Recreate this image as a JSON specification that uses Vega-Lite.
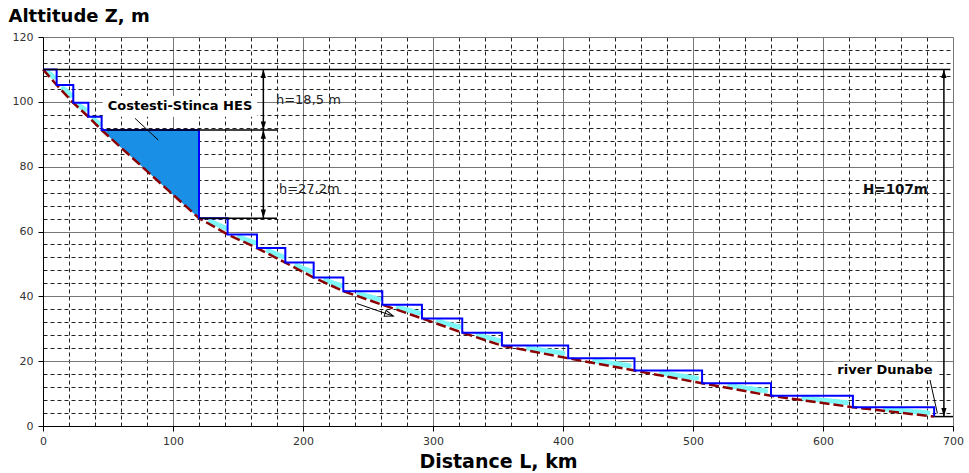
{
  "$schema": "https://vega.github.io/schema/vega-lite/v6.json",
  "width": 910,
  "height": 389,
  "autosize": {"type": "none"},
  "padding": {"left": 43, "top": 37, "right": 16, "bottom": 47},
  "background": "white",
  "config": {
    "view": {"stroke": null},
    "axis": {"labelFont": "DejaVu Sans", "titleFont": "DejaVu Sans"},
    "text": {"font": "DejaVu Sans"}
  },
  "datasets": {
    "fill": [
      {"L": 45.1, "Z": 91.3, "Z2": 91.3},
      {"L": 120, "Z": 64.1, "Z2": 91.3}
    ],
    "boxes": [
      {"L": 46, "Z": 95.4, "L2": 164.6, "Z2": 101.8},
      {"L": 608, "Z": 14.8, "L2": 688, "Z2": 19.8}
    ],
    "cyan": [
      {"s": 1, "L": 4.2, "Z": 109.04}, {"s": 1, "L": 9.66, "Z": 107.12},
      {"s": 2, "L": 15.6, "Z": 104.1}, {"s": 2, "L": 22.3, "Z": 101.9},
      {"s": 3, "L": 27.9, "Z": 98.84}, {"s": 3, "L": 34.0, "Z": 97.12},
      {"s": 4, "L": 39.0, "Z": 94.58}, {"s": 4, "L": 44.3, "Z": 92.94},
      {"s": 5, "L": 128.8, "Z": 63.1}, {"s": 5, "L": 140.2, "Z": 61.1},
      {"s": 6, "L": 151.0, "Z": 58.26}, {"s": 6, "L": 162.8, "Z": 56.58},
      {"s": 7, "L": 173.3, "Z": 54.0}, {"s": 7, "L": 184.7, "Z": 52.2},
      {"s": 8, "L": 195.1, "Z": 49.48}, {"s": 8, "L": 206.5, "Z": 47.64},
      {"s": 9, "L": 217.3, "Z": 44.96}, {"s": 9, "L": 229.2, "Z": 43.28},
      {"s": 10, "L": 243, "Z": 40.76}, {"s": 10, "L": 258.6, "Z": 39.08},
      {"s": 11, "L": 273.2, "Z": 36.56}, {"s": 11, "L": 289.1, "Z": 34.88},
      {"s": 12, "L": 303.9, "Z": 32.32}, {"s": 12, "L": 320.0, "Z": 30.56},
      {"s": 13, "L": 334.7, "Z": 28.0}, {"s": 13, "L": 350.6, "Z": 26.4},
      {"s": 14, "L": 373.4, "Z": 24.02}, {"s": 14, "L": 399.9, "Z": 22.46},
      {"s": 15, "L": 424.4, "Z": 20.14}, {"s": 15, "L": 450.9, "Z": 18.62},
      {"s": 16, "L": 475.8, "Z": 16.32}, {"s": 16, "L": 502.8, "Z": 14.76},
      {"s": 17, "L": 528.2, "Z": 12.42}, {"s": 17, "L": 555.8, "Z": 10.86},
      {"s": 18, "L": 585.2, "Z": 8.6}, {"s": 18, "L": 618, "Z": 7.2},
      {"s": 19, "L": 648, "Z": 5.22}, {"s": 19, "L": 680.5, "Z": 4.06}
    ],
    "bed": [
      {"L": 0, "Z": 110}, {"L": 10.5, "Z": 105.2}, {"L": 23.3, "Z": 99.7},
      {"L": 34.9, "Z": 95.4}, {"L": 45.1, "Z": 91.3}, {"L": 120, "Z": 64.1},
      {"L": 142, "Z": 59.1}, {"L": 164.6, "Z": 54.9}, {"L": 186.4, "Z": 50.4},
      {"L": 208.2, "Z": 45.8}, {"L": 231, "Z": 41.6}, {"L": 261, "Z": 37.4},
      {"L": 291.5, "Z": 33.2}, {"L": 322.5, "Z": 28.8}, {"L": 353, "Z": 24.8},
      {"L": 404, "Z": 20.9}, {"L": 455, "Z": 17.1}, {"L": 507, "Z": 13.2},
      {"L": 560, "Z": 9.3}, {"L": 623, "Z": 5.8}, {"L": 685.5, "Z": 2.9}
    ],
    "steps": [
      {"i": 0, "L": 0, "Z": 110}, {"i": 1, "L": 10.5, "Z": 110},
      {"i": 2, "L": 10.5, "Z": 105.2}, {"i": 3, "L": 23.3, "Z": 105.2},
      {"i": 4, "L": 23.3, "Z": 99.7}, {"i": 5, "L": 34.9, "Z": 99.7},
      {"i": 6, "L": 34.9, "Z": 95.4}, {"i": 7, "L": 45.1, "Z": 95.4},
      {"i": 8, "L": 45.1, "Z": 91.3}, {"i": 9, "L": 120, "Z": 91.3},
      {"i": 10, "L": 120, "Z": 64.1}, {"i": 11, "L": 142, "Z": 64.1},
      {"i": 12, "L": 142, "Z": 59.1}, {"i": 13, "L": 164.6, "Z": 59.1},
      {"i": 14, "L": 164.6, "Z": 54.9}, {"i": 15, "L": 186.4, "Z": 54.9},
      {"i": 16, "L": 186.4, "Z": 50.4}, {"i": 17, "L": 208.2, "Z": 50.4},
      {"i": 18, "L": 208.2, "Z": 45.8}, {"i": 19, "L": 231, "Z": 45.8},
      {"i": 20, "L": 231, "Z": 41.6}, {"i": 21, "L": 261, "Z": 41.6},
      {"i": 22, "L": 261, "Z": 37.4}, {"i": 23, "L": 291.5, "Z": 37.4},
      {"i": 24, "L": 291.5, "Z": 33.2}, {"i": 25, "L": 322.5, "Z": 33.2},
      {"i": 26, "L": 322.5, "Z": 28.8}, {"i": 27, "L": 353, "Z": 28.8},
      {"i": 28, "L": 353, "Z": 24.8}, {"i": 29, "L": 404, "Z": 24.8},
      {"i": 30, "L": 404, "Z": 20.9}, {"i": 31, "L": 455, "Z": 20.9},
      {"i": 32, "L": 455, "Z": 17.1}, {"i": 33, "L": 507, "Z": 17.1},
      {"i": 34, "L": 507, "Z": 13.2}, {"i": 35, "L": 560, "Z": 13.2},
      {"i": 36, "L": 560, "Z": 9.3}, {"i": 37, "L": 623, "Z": 9.3},
      {"i": 38, "L": 623, "Z": 5.8}, {"i": 39, "L": 685.5, "Z": 5.8},
      {"i": 40, "L": 685.5, "Z": 2.9}
    ],
    "rules": [
      {"L": 0, "Z": 110, "L2": 698, "Z2": 110},
      {"L": 49, "Z": 91.3, "L2": 180, "Z2": 91.3},
      {"L": 120, "Z": 64.1, "L2": 180, "Z2": 64.1},
      {"L": 169.5, "Z": 110, "L2": 169.5, "Z2": 64.1},
      {"L": 693, "Z": 110, "L2": 693, "Z2": 2.9},
      {"L": 685.5, "Z": 2.9, "L2": 700, "Z2": 2.9}
    ],
    "leaders": [
      {"L": 70.8, "Z": 94.9, "L2": 88.7, "Z2": 88.2},
      {"L": 682.3, "Z": 14.2, "L2": 688, "Z2": 3.9},
      {"L": 241.3, "Z": 37.8, "L2": 269.5, "Z2": 33.9}
    ],
    "heads": [
      {"L": 169.5, "Z": 110, "dir": "up"},
      {"L": 169.5, "Z": 91.3, "dir": "down"},
      {"L": 169.5, "Z": 91.3, "dir": "up"},
      {"L": 169.5, "Z": 64.1, "dir": "down"},
      {"L": 693, "Z": 110, "dir": "up"},
      {"L": 693, "Z": 2.9, "dir": "down"}
    ],
    "openhead": [
      {"L": 269.5, "Z": 33.9}
    ],
    "boldlabels": [
      {"L": 105.4, "Z": 98.7, "t": "Costesti-Stinca HES"},
      {"L": 647.7, "Z": 17.3, "t": "river Dunabe"}
    ],
    "hlabels": [
      {"L": 179.2, "Z": 100.5, "t": "h=18,5 m"},
      {"L": 181.5, "Z": 73.1, "t": "h=27,2m"}
    ],
    "Hlabel": [
      {"L": 630.8, "Z": 72.8, "t": "H=107m"}
    ]
  },
  "encoding": {
    "x": {
      "field": "L", "type": "quantitative",
      "scale": {"domain": [0, 700], "nice": false, "zero": false},
      "axis": {
        "values": [0,20,40,60,80,100,120,140,160,180,200,220,240,260,280,300,320,340,360,380,400,420,440,460,480,500,520,540,560,580,600,620,640,660,680,700],
        "title": "Distance L, km",
        "titleFontSize": 19, "titleFontWeight": "bold", "titleColor": "#000",
        "titleX": 455, "titleY": 41, "titleBaseline": "alphabetic", "titleAlign": "center",
        "labelExpr": "datum.value % 100 === 0 ? datum.label : ''",
        "labelFontSize": 11, "labelColor": "#333", "labelPadding": 4,
        "labelOverlap": false, "labelFlush": false, "labelBound": false,
        "tickSize": 5, "tickColor": "#000",
        "tickOpacity": {"condition": {"test": "datum.value % 100 === 0", "value": 1}, "value": 0},
        "grid": true,
        "gridColor": {"condition": {"test": "datum.value % 100 === 0", "value": "#777"}, "value": "#222"},
        "gridDash": {"condition": {"test": "datum.value % 100 === 0", "value": []}, "value": [4, 3]},
        "gridWidth": 1,
        "domainColor": "#000"
      }
    },
    "y": {
      "field": "Z", "type": "quantitative",
      "scale": {"domain": [0, 120], "nice": false, "zero": false},
      "axis": {
        "values": [0,4,8,12,16,20,24,28,32,36,40,44,48,52,56,60,64,68,72,76,80,84,88,92,96,100,104,108,112,116,120],
        "title": "Alttitude Z, m",
        "titleFontSize": 18, "titleFontWeight": "bold", "titleColor": "#000",
        "titleAngle": 0, "titleX": -35, "titleY": -16, "titleAlign": "left", "titleBaseline": "alphabetic",
        "labelExpr": "datum.value % 20 === 0 ? datum.label : ''",
        "labelFontSize": 11, "labelColor": "#333", "labelPadding": 5,
        "labelOverlap": false, "labelFlush": false, "labelBound": false,
        "tickSize": 5, "tickColor": "#000",
        "tickOpacity": {"condition": {"test": "datum.value % 20 === 0", "value": 1}, "value": 0},
        "grid": true,
        "gridColor": {"condition": {"test": "datum.value % 20 === 0", "value": "#777"}, "value": "#222"},
        "gridDash": {"condition": {"test": "datum.value % 20 === 0", "value": []}, "value": [4, 3]},
        "gridWidth": 1,
        "domainColor": "#000"
      }
    }
  },
  "layer": [
    {
      "data": {"name": "fill"},
      "mark": {"type": "area", "color": "#1a8fe6", "opacity": 1},
      "encoding": {"y2": {"field": "Z2"}}
    },
    {
      "data": {"name": "boxes"},
      "mark": {"type": "rect", "color": "white"},
      "encoding": {"x2": {"field": "L2"}, "y2": {"field": "Z2"}}
    },
    {
      "data": {"name": "cyan"},
      "mark": {"type": "line", "color": "#7ff7f7", "strokeWidth": 5, "strokeDash": [7, 3], "strokeCap": "round"},
      "encoding": {"detail": {"field": "s", "type": "nominal"}}
    },
    {
      "data": {"name": "bed"},
      "mark": {"type": "line", "color": "#8b0000", "strokeWidth": 2.5, "strokeDash": [10, 4]},
      "encoding": {}
    },
    {
      "data": {"name": "steps"},
      "mark": {"type": "line", "color": "#0000ff", "strokeWidth": 2},
      "encoding": {"order": {"field": "i", "type": "quantitative"}}
    },
    {
      "data": {"name": "rules"},
      "mark": {"type": "rule", "color": "#000", "strokeWidth": 1.5},
      "encoding": {"x2": {"field": "L2"}, "y2": {"field": "Z2"}}
    },
    {
      "data": {"name": "leaders"},
      "mark": {"type": "rule", "color": "#000", "strokeWidth": 1},
      "encoding": {"x2": {"field": "L2"}, "y2": {"field": "Z2"}}
    },
    {
      "data": {"name": "heads"},
      "mark": {"type": "point", "filled": true, "color": "#000", "size": 300, "opacity": 1},
      "encoding": {
        "shape": {
          "field": "dir", "type": "nominal", "legend": null,
          "scale": {"domain": ["up", "down"], "range": ["M0,0L0.3,1L-0.3,1Z", "M0,0L0.3,-1L-0.3,-1Z"]}
        }
      }
    },
    {
      "data": {"name": "openhead"},
      "mark": {"type": "point", "filled": false, "color": "#000", "size": 300, "strokeWidth": 1, "opacity": 1, "shape": "M0,0L-1,-0.35L-1,0.35Z", "angle": 19},
      "encoding": {}
    },
    {
      "data": {"name": "boldlabels"},
      "mark": {"type": "text", "fontWeight": "bold", "fontSize": 13, "align": "center", "baseline": "middle", "color": "#000"},
      "encoding": {"text": {"field": "t"}}
    },
    {
      "data": {"name": "hlabels"},
      "mark": {"type": "text", "fontSize": 13, "align": "left", "baseline": "middle", "color": "#222"},
      "encoding": {"text": {"field": "t"}}
    },
    {
      "data": {"name": "Hlabel"},
      "mark": {"type": "text", "fontSize": 13.5, "fontWeight": "bold", "align": "left", "baseline": "middle", "color": "#111"},
      "encoding": {"text": {"field": "t"}}
    }
  ]
}
